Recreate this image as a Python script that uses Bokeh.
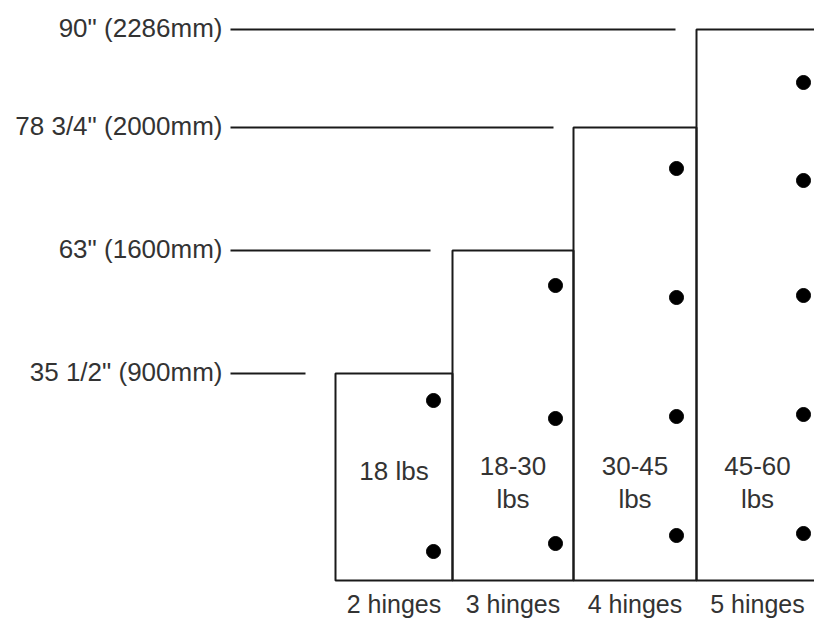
from bokeh.plotting import figure
from bokeh.models import Range1d
from bokeh.core.properties import value
from bokeh.embed import file_html
from bokeh.resources import INLINE

# Door heights (as drawn, not to scale) and their labels
height_labels = ['35 1/2" (900mm)', '63" (1600mm)', '78 3/4" (2000mm)', '90" (2286mm)']
door_height = [207, 330, 453, 551]
door_left = [335, 452, 573, 696]
door_right = [452, 573, 696, 818]
leader_end = [305, 430, 553, 675]
hinge_labels = ['2 hinges', '3 hinges', '4 hinges', '5 hinges']
weight_line1 = ['18 lbs', '18-30', '30-45', '45-60']
weight_line2 = ['', 'lbs', 'lbs', 'lbs']
hinge_x = [433, 555, 676, 803]
hinge_y = [[180, 29], [295, 162, 37], [412, 283, 164, 45], [498, 400, 285, 166, 47]]

FONT = value("Liberation Sans")
INK = "#1a1a1a"
TXT = "#333333"
FS = "26px"

p = figure(width=814, height=618, output_backend="svg", toolbar_location=None,
           x_axis_type=None, y_axis_type=None, min_border=0,
           x_range=Range1d(0, 814), y_range=Range1d(-38, 580))
p.outline_line_color = None
p.grid.visible = False
p.background_fill_color = "white"
p.border_fill_color = "white"

centers = [(l + r) / 2 for l, r in zip(door_left, door_right)]

# doors (outline only)
p.quad(left=door_left, right=door_right, bottom=[0] * 4, top=door_height,
       fill_color=None, line_color=INK, line_width=2)

# leader lines
p.segment(x0=[230] * 4, x1=leader_end, y0=door_height, y1=door_height,
          line_color=INK, line_width=2)

# height labels
p.text(x=[222] * 4, y=[h + 2 for h in door_height], text=height_labels,
       text_align="right", text_baseline="middle", text_font=FONT,
       text_font_size=FS, text_color=TXT)

# hinges
hx, hy = [], []
for x, ys in zip(hinge_x, hinge_y):
    for y in ys:
        hx.append(x)
        hy.append(y)
p.scatter(x=hx, y=hy, size=14, color="black")

# weight labels
l1_y = [110 if not s else 115 for s in weight_line2]
p.text(x=centers, y=l1_y, text=weight_line1, text_align="center",
       text_baseline="middle", text_font=FONT, text_font_size=FS, text_color=TXT)
p.text(x=centers, y=[82] * 4, text=weight_line2, text_align="center",
       text_baseline="middle", text_font=FONT, text_font_size=FS, text_color=TXT)

# hinge count labels
p.text(x=centers, y=[-37] * 4, text=hinge_labels, text_align="center",
       text_baseline="bottom", text_font=FONT, text_font_size="25px", text_color=TXT)

open("out.html", "w").write(file_html(p, INLINE))
